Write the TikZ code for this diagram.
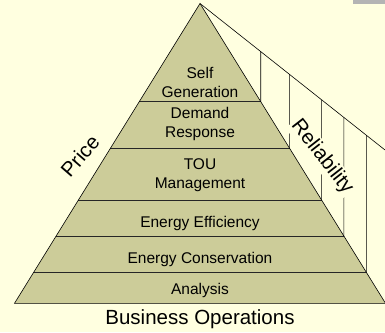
\documentclass[tikz,border=0pt]{standalone}
\usepackage{fontspec}
\setmainfont{Liberation Sans}
\usetikzlibrary{calc}
\definecolor{bgyellow}{RGB}{255,255,224}
\definecolor{khaki}{RGB}{204,204,153}
\definecolor{tabgray}{RGB}{180,180,180}
\tikzset{
  edge/.style={draw=black,line width=0.6pt},
  divider/.style={draw=black!85,line width=0.8pt},
  lvl/.style={font=\fontsize{15.5}{19}\selectfont,align=center,inner sep=0pt},
  side/.style={font=\fontsize{20.5}{24}\selectfont,inner sep=0pt},
}
\begin{document}
\begin{tikzpicture}[x=1pt,y=-1pt]
\fill[bgyellow] (0,0) rectangle (385,332);
\useasboundingbox (0,0) rectangle (385,332);
\fill[tabgray] (353,0) rectangle (385,4);
\coordinate (A) at (200,3.5);
\coordinate (BL) at (14.5,303.3);
\coordinate (BR) at (385.5,303.3);
\coordinate (E) at (385,150);
\foreach \i/\t in {1/0.3276,2/0.4830,3/0.6554,4/0.7755,5/0.8966}{
  \coordinate (L\i) at ($(A)!\t!(BL)$);
  \coordinate (R\i) at ($(A)!\t!(BR)$);
  \coordinate (T\i) at ($(A)!{\t*1.0027}!(E)$);
}
\draw[edge] (A) -- (E);
\foreach \i in {1,...,5}{ \draw[edge] (R\i) -- (T\i); }
\node[side,rotate=-52,fill=bgyellow,inner sep=1.5pt] (rel) at (322,157) {Reliability};
\fill[khaki] (A) -- (BL) -- (BR) -- cycle;
\foreach \i in {1,...,5}{ \draw[divider] (L\i) -- (R\i); }
\draw[edge] (BL) -- (A) -- (BR) -- cycle;
\node[lvl] (self) at (200,82) {Self\\Generation};
\node[lvl] (dr) at (200,124) {Demand\\Response};
\node[lvl] (tou) at (200,175) {TOU\\Management};
\node[lvl] (ee) at (200,223) {Energy Efficiency};
\node[lvl] (ec) at (200,259) {Energy Conservation};
\node[lvl] (an) at (200,290) {Analysis};
\node[side] (bo) at (200,319) {Business Operations};
\node[side,rotate=49] (price) at (80,156) {Price};
\end{tikzpicture}
\end{document}
